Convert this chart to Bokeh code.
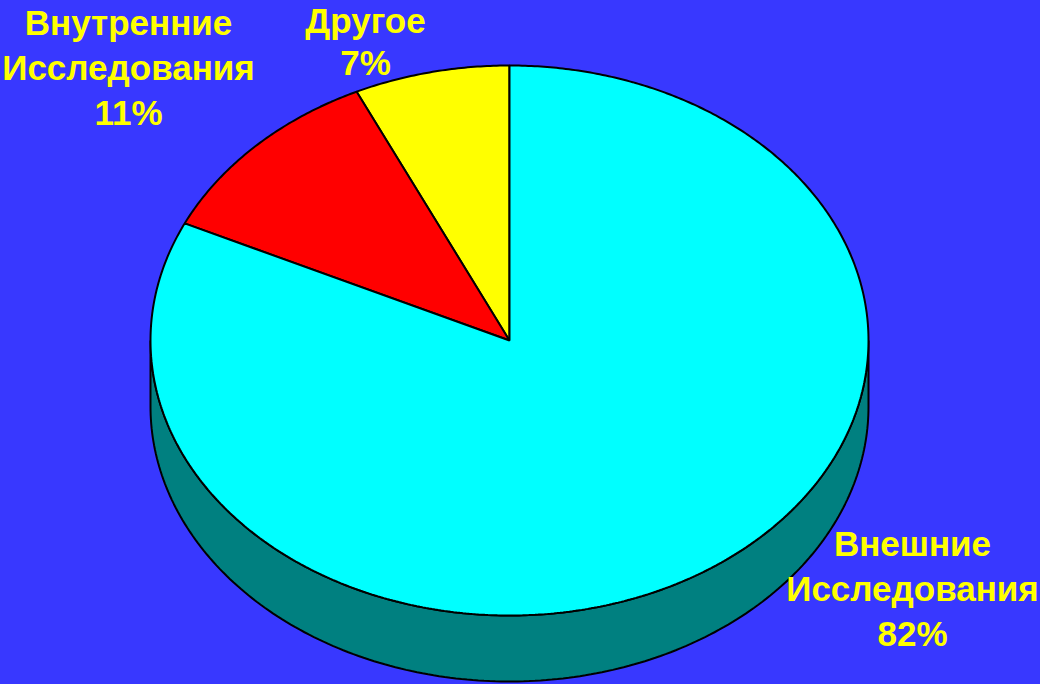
import numpy as np
from bokeh.plotting import figure
from bokeh.models import Range1d
from bokeh.core.properties import value
from bokeh.embed import file_html
from bokeh.resources import INLINE

# ---- data ----
categories = ["Другое", "Внутренние\nИсследования", "Внешние\nИсследования"]
shares = [7, 11, 82]
top_colors = ["#FFFF00", "#FF0000", "#00FFFF"]
side_colors = ["#808000", "#800000", "#008080"]

BG = "#3838FF"
W, H = 1040, 684
p = figure(width=W, height=H, output_backend="svg", toolbar_location=None,
           x_range=Range1d(0, W), y_range=Range1d(H, 0),
           min_border=0, background_fill_color=BG, border_fill_color=BG)
p.axis.visible = False
p.grid.visible = False
p.outline_line_color = None

# pie geometry (screen pixel units)
cx, cy, rx, ry, depth = 509, 340, 359, 275, 66

def pt(theta_deg):
    t = np.radians(theta_deg)
    return cx + rx * np.sin(t), cy - ry * np.cos(t)

total = sum(shares)
bounds = [0.0]
for s in shares:
    bounds.append(bounds[-1] - 360.0 * s / total)  # counter-clockwise from 12 o'clock

# sides (front half: theta in [-270, -90])
for i in range(len(shares)):
    hi, lo = bounds[i], bounds[i + 1]
    a = min(hi, -90.0)
    b = max(lo, -270.0)
    if a <= b:
        continue
    th = np.linspace(a, b, 200)
    xs, ys = pt(th)
    px = list(xs) + list(xs[::-1])
    py = list(ys) + list((ys + depth)[::-1])
    p.patch(px, py, fill_color=side_colors[i], line_color="black", line_width=2)

# top faces
for i in range(len(shares)):
    hi, lo = bounds[i], bounds[i + 1]
    n = max(int(abs(hi - lo) * 2), 4)
    th = np.linspace(hi, lo, n)
    xs, ys = pt(th)
    px = [cx] + list(xs) + [cx]
    py = [cy] + list(ys) + [cy]
    p.patch(px, py, fill_color=top_colors[i], line_color="black", line_width=2)

# labels
label_pos = [(365, 20), (128, 22), (912, 543)]
line_hs = [42, 45, 45]
for i, cat in enumerate(categories):
    lines = cat.split("\n") + [f"{shares[i]}%"]
    x0, y0 = label_pos[i]
    p.text(x=[x0] * len(lines), y=[y0 + k * line_hs[i] for k in range(len(lines))], text=lines,
           text_font=value("Liberation Sans"), text_font_style="bold",
           text_font_size="35px", text_color="#FFFF00",
           text_align="center", text_baseline="middle")

html = file_html(p, INLINE)
html = html.replace("<head>", "<head><style>html,body{background:%s;margin:0;padding:0;}</style>" % BG, 1)
open("out.html", "w").write(html)
